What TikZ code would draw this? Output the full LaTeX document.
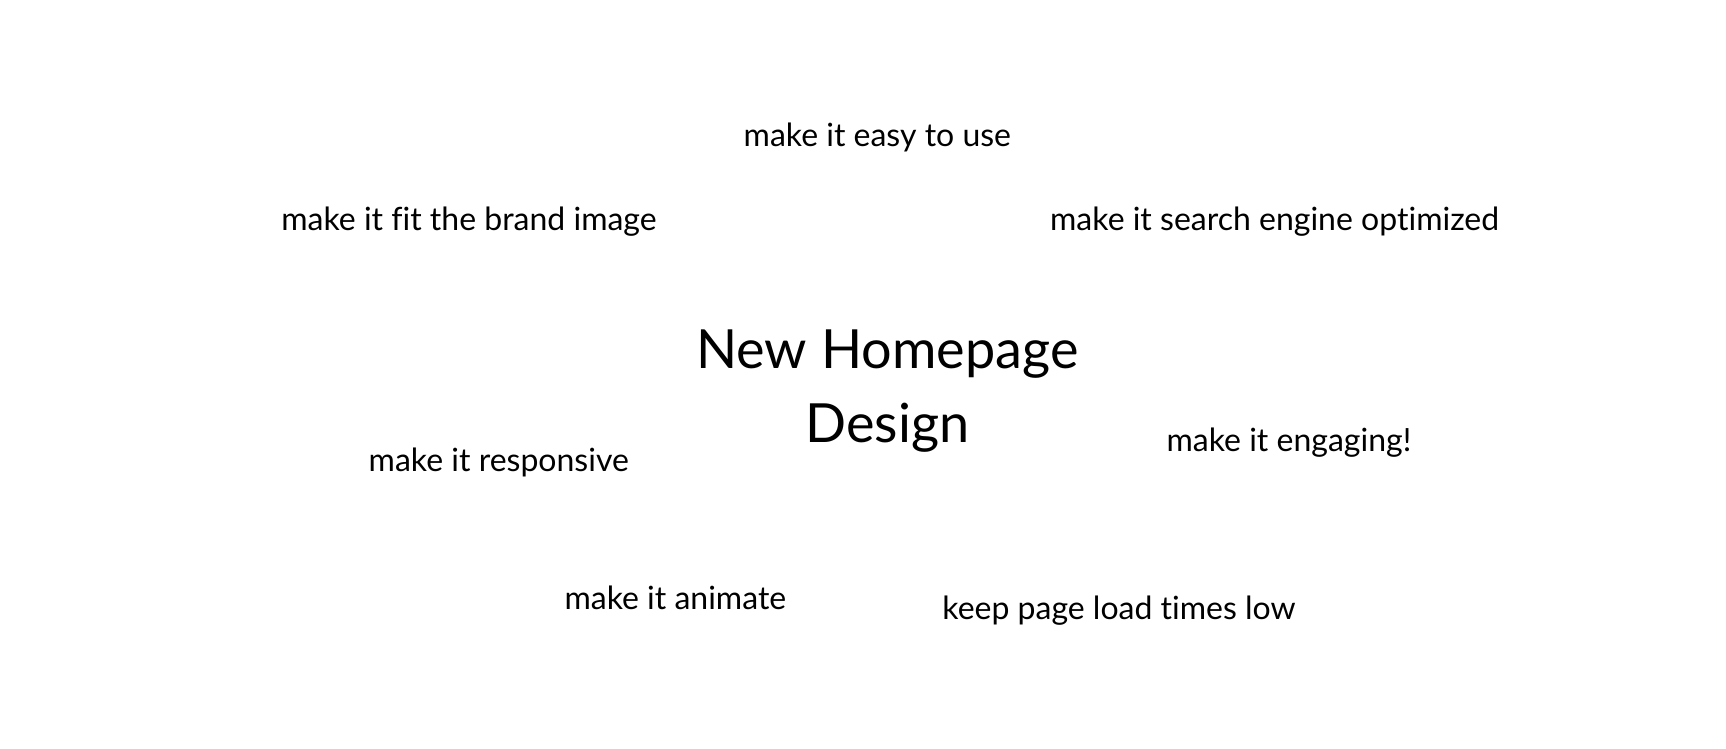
\documentclass[tikz,border=0pt]{standalone}
\usepackage{fontspec}
\setmainfont{Lato}[Ligatures=NoCommon]
\usepackage{tikz}
\usetikzlibrary{positioning}

\tikzset{
	idea/.style={anchor=mid, inner sep=0pt, font=\fontsize{32}{38}\selectfont},
	topic/.style={align=center, inner sep=0pt, font=\fontsize{54}{74}\selectfont}
}

\begin{document}
\begin{tikzpicture}[x=1.1036pt,y=-1.1036pt]
			\useasboundingbox (0,0) rectangle (1564,677.8);
			
			\node[topic] (main) at (804,354) {New Homepage\\Design};
			
			\node[idea] (easy) at (795,130) {make it easy to use};
			\node[idea] (brand) at (425,207) {make it fit the brand image};
			\node[idea] (seo) at (1155,207) {make it search engine optimized};
			\node[idea] (resp) at (452,425) {make it responsive};
			\node[idea] (engage) at (1168,407) {make it engaging!};
			\node[idea] (anim) at (612,550) {make it animate};
			\node[idea] (load) at (1014,559) {keep page load times low};
			
		\end{tikzpicture}
\end{document}
